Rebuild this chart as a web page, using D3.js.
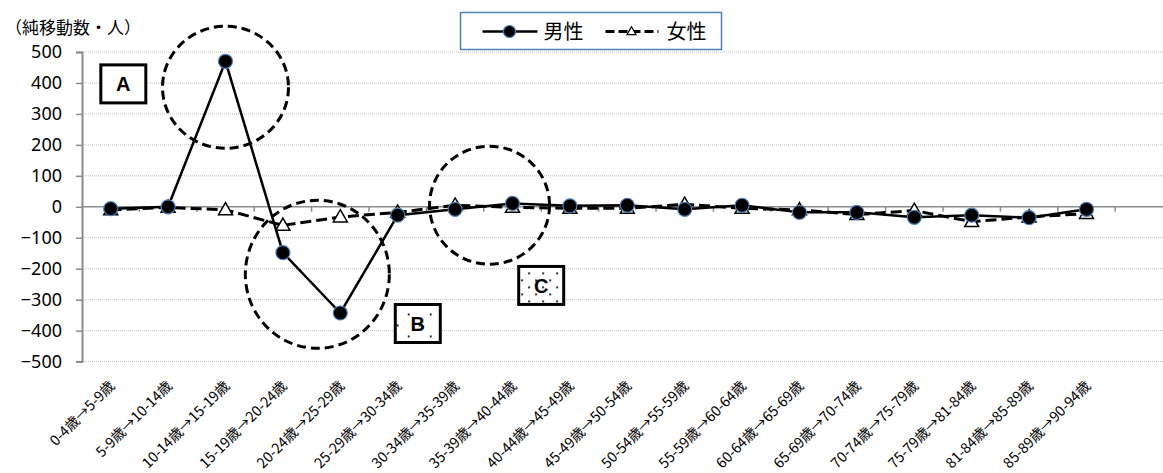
<!DOCTYPE html>
<html><head><meta charset="utf-8">
<script src="https://cdn.jsdelivr.net/npm/d3@7"></script>
<style>
html,body{margin:0;padding:0;background:#fff;}
svg{display:block;}
</style></head>
<body>
<script>
const categories = ["0-4歳→5-9歳","5-9歳→10-14歳","10-14歳→15-19歳","15-19歳→20-24歳","20-24歳→25-29歳","25-29歳→30-34歳","30-34歳→35-39歳","35-39歳→40-44歳","40-44歳→45-49歳","45-49歳→50-54歳","50-54歳→55-59歳","55-59歳→60-64歳","60-64歳→65-69歳","65-69歳→70-74歳","70-74歳→75-79歳","75-79歳→81-84歳","81-84歳→85-89歳","85-89歳→90-94歳"];
const maleValues = [-6, 0, 470, -148, -343, -27, -8, 11, 3, 5, -8, 5, -18, -18, -34, -27, -35, -8];
const femaleValues = [-10, -2, -10, -60, -33, -18, 5, -2, -5, -5, 8, -5, -10, -25, -12, -48, -33, -22];
const yTicks = [500, 400, 300, 200, 100, 0, -100, -200, -300, -400, -500];
const seriesNames = ["男性", "女性"];
const yTitle = "（純移動数・人）";
// annotations: position in category-index / value units
const annCircles = [{i: 2, v: 386, rx: 63, ry: 61}, {i: 3.6, v: -218, rx: 72, ry: 74}, {i: 6.6, v: 5, rx: 60, ry: 59}];
const annBoxes = [{label: "A", i: 0.22, v: 397, pattern: null}, {label: "B", i: 5.35, v: -377, pattern: "dotsB"}, {label: "C", i: 7.5, v: -254, pattern: "dotsC"}];

const W = 1163, H = 473;
const svg = d3.select("body").append("svg").attr("width", W).attr("height", H);
const defs = svg.append("defs");
function dotPattern(id, step) {
  const p = defs.append("pattern").attr("id", id).attr("patternUnits", "userSpaceOnUse")
    .attr("width", step * 2).attr("height", step * 2);
  p.append("rect").attr("width", step * 2).attr("height", step * 2).attr("fill", "#fff");
  p.append("rect").attr("x", 1).attr("y", 1).attr("width", 1.8).attr("height", 1.8).attr("fill", "#000");
  p.append("rect").attr("x", step + 1).attr("y", step + 1).attr("width", 1.8).attr("height", 1.8).attr("fill", "#000");
}
dotPattern("dotsB", 11);
dotPattern("dotsC", 7);

const plotLeft = 82, catStep = 57.4, plotTop = 52, plotBottom = 361.6;
const x = d3.scaleBand().domain(categories).range([plotLeft, plotLeft + catStep * categories.length]).padding(0);
const y = d3.scaleLinear().domain([-500, 500]).range([plotBottom, plotTop]);
const cx = i => x(categories[0]) + x.bandwidth() / 2 + i * x.step();

const numFont = "'Noto Sans', 'Liberation Sans', sans-serif";
const jpFont = "'Noto Sans CJK JP', sans-serif";

// gridlines
svg.append("g").selectAll("line").data(yTicks.filter(d => d !== 0)).join("line")
  .attr("x1", plotLeft).attr("x2", W).attr("y1", d => y(d)).attr("y2", d => y(d))
  .attr("stroke", "#bdbdbd").attr("stroke-width", 1).attr("stroke-dasharray", "1,1");

// y axis
const yAxis = d3.axisLeft(y).tickValues(yTicks).tickSize(6).tickPadding(14).tickFormat(d3.format("d"));
const gy = svg.append("g").attr("transform", `translate(${plotLeft},0)`).call(yAxis);
gy.select(".domain").attr("stroke", "#8c8c8c").attr("stroke-width", 2);
gy.selectAll(".tick line").attr("stroke", "#8c8c8c").attr("stroke-width", 1.5);
gy.selectAll(".tick text").attr("font-family", numFont).attr("font-size", 18).attr("fill", "#000");

// zero axis line with category boundary ticks
svg.append("line").attr("x1", plotLeft).attr("x2", W).attr("y1", y(0)).attr("y2", y(0))
  .attr("stroke", "#8c8c8c").attr("stroke-width", 1.5);
const bounds = d3.range(1, categories.length + 1).map(k => plotLeft + k * x.step());
svg.append("g").selectAll("line").data(bounds).join("line")
  .attr("x1", d => d).attr("x2", d => d).attr("y1", y(0)).attr("y2", y(0) + 5)
  .attr("stroke", "#8c8c8c").attr("stroke-width", 1.5);

// x labels
svg.append("g").selectAll("text").data(categories).join("text")
  .attr("transform", d => `translate(${x(d) + x.bandwidth() / 2 + 5},387) rotate(-45)`)
  .attr("text-anchor", "end").attr("font-family", jpFont).attr("font-size", 14.3).attr("fill", "#000")
  .text(d => d);

// y title
svg.append("text").attr("x", 5).attr("y", 34).attr("font-family", jpFont).attr("font-size", 17).text(yTitle);

// female series
const line = d3.line().x((d, i) => cx(i)).y(d => y(d));
svg.append("path").datum(femaleValues).attr("d", line).attr("fill", "none")
  .attr("stroke", "#000").attr("stroke-width", 3).attr("stroke-dasharray", "11,5");
// male series
svg.append("path").datum(maleValues).attr("d", line).attr("fill", "none")
  .attr("stroke", "#000").attr("stroke-width", 2.5);

function tri(s) { const h = s * 0.87; return `M0,${-h * 0.6}L${s / 2},${h * 0.4}L${-s / 2},${h * 0.4}Z`; }
svg.append("g").selectAll("path").data(femaleValues).join("path")
  .attr("d", tri(14)).attr("transform", (d, i) => `translate(${cx(i)},${y(d)})`)
  .attr("fill", "#fff").attr("stroke", "#000").attr("stroke-width", 1.5);
svg.append("g").selectAll("circle").data(maleValues).join("circle")
  .attr("cx", (d, i) => cx(i)).attr("cy", d => y(d)).attr("r", 7)
  .attr("fill", "#000").attr("stroke", "#4a7ebb").attr("stroke-width", 1.2);

// annotation circles
svg.append("g").selectAll("ellipse").data(annCircles).join("ellipse")
  .attr("cx", d => cx(d.i)).attr("cy", d => y(d.v)).attr("rx", d => d.rx).attr("ry", d => d.ry)
  .attr("fill", "none").attr("stroke", "#000").attr("stroke-width", 3).attr("stroke-dasharray", "9,5");

// annotation boxes
const bw = 45, bh = 38;
const gb = svg.append("g").selectAll("g").data(annBoxes).join("g")
  .attr("transform", d => `translate(${cx(d.i)},${y(d.v)})`);
gb.append("rect").attr("x", -bw / 2).attr("y", -bh / 2).attr("width", bw).attr("height", bh)
  .attr("fill", d => d.pattern ? `url(#${d.pattern})` : "#fff").attr("stroke", "#000").attr("stroke-width", 3);
gb.append("text").attr("text-anchor", "middle").attr("dy", "0.36em")
  .attr("font-family", "'Liberation Sans', Arial, sans-serif").attr("font-weight", "bold").attr("font-size", 20)
  .text(d => d.label);

// legend
const lg = svg.append("g").attr("transform", "translate(460.5,12.5)");
lg.append("rect").attr("width", 261).attr("height", 37).attr("fill", "#fff").attr("stroke", "#4f81bd").attr("stroke-width", 1.5);
lg.append("line").attr("x1", 22).attr("x2", 77).attr("y1", 19).attr("y2", 19).attr("stroke", "#000").attr("stroke-width", 2.5);
lg.append("circle").attr("cx", 49).attr("cy", 19).attr("r", 6).attr("fill", "#000").attr("stroke", "#4a7ebb").attr("stroke-width", 1.2);
lg.append("text").attr("x", 83).attr("y", 19).attr("dy", "0.35em").attr("font-family", jpFont).attr("font-size", 20).text(seriesNames[0]);
lg.append("line").attr("x1", 145).attr("x2", 198).attr("y1", 19).attr("y2", 19).attr("stroke", "#000").attr("stroke-width", 3).attr("stroke-dasharray", "9,4");
lg.append("path").attr("d", tri(9)).attr("transform", "translate(171,19)").attr("fill", "#fff").attr("stroke", "#000").attr("stroke-width", 1.2);
lg.append("text").attr("x", 206).attr("y", 19).attr("dy", "0.35em").attr("font-family", jpFont).attr("font-size", 20).text(seriesNames[1]);
</script>
</body></html>
